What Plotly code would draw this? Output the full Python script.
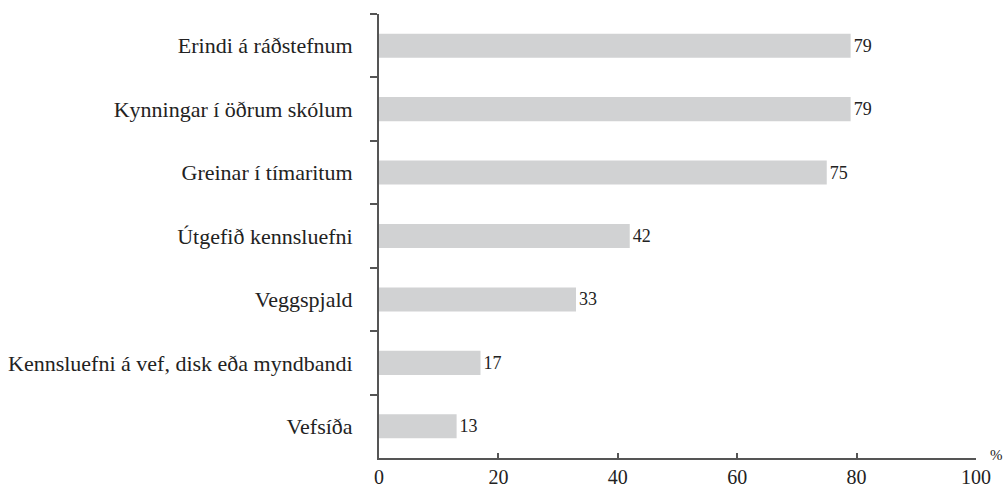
import plotly.graph_objects as go

categories = [
    "Erindi á ráðstefnum",
    "Kynningar í öðrum skólum",
    "Greinar í tímaritum",
    "Útgefið kennsluefni",
    "Veggspjald",
    "Kennsluefni á vef, disk eða myndbandi",
    "Vefsíða",
]
values = [79, 79, 75, 42, 33, 17, 13]
x_ticks = [0, 20, 40, 60, 80, 100]

FONT = "Liberation Serif"
TXT = "#222222"
AX = "#555555"

fig = go.Figure(
    go.Bar(
        x=values,
        y=categories,
        orientation="h",
        marker=dict(color="#d1d2d3", line=dict(width=0)),
        text=[str(v) for v in values],
        textposition="outside",
        textfont=dict(family=FONT, size=18, color=TXT),
        cliponaxis=False,
        hoverinfo="skip",
    )
)

fig.update_layout(
    width=1005,
    height=493,
    margin=dict(l=379, r=29, t=14, b=35),
    paper_bgcolor="white",
    plot_bgcolor="white",
    bargap=0.62,
    showlegend=False,
    font=dict(family=FONT, color=TXT),
    xaxis=dict(
        range=[0, 100],
        tickvals=x_ticks,
        ticktext=[str(t) for t in x_ticks],
        showgrid=False,
        zeroline=False,
        showline=True,
        linecolor=AX,
        linewidth=2,
        ticks="inside",
        ticklen=5,
        tickwidth=1.5,
        tickcolor=AX,
        tickfont=dict(family=FONT, size=20, color=TXT),
        automargin=False,
        fixedrange=True,
    ),
    yaxis=dict(
        type="category",
        autorange="reversed",
        showgrid=False,
        zeroline=False,
        showline=True,
        linecolor=AX,
        linewidth=2,
        ticks="outside",
        tickson="boundaries",
        ticklen=7,
        tickwidth=1.5,
        tickcolor=AX,
        tickfont=dict(family=FONT, size=22, color=TXT),
        ticklabelstandoff=20,
        automargin=False,
        fixedrange=True,
    ),
    annotations=[
        dict(
            text="%",
            xref="paper",
            yref="paper",
            x=1.0,
            y=0.0,
            xshift=20,
            yshift=3,
            showarrow=False,
            font=dict(family=FONT, size=15, color=TXT),
            xanchor="center",
            yanchor="middle",
        )
    ],
)

fig.write_html(
    "out.html",
    config={"displayModeBar": False},
    post_script="document.body.style.margin='0';document.body.style.overflow='hidden';",
)
